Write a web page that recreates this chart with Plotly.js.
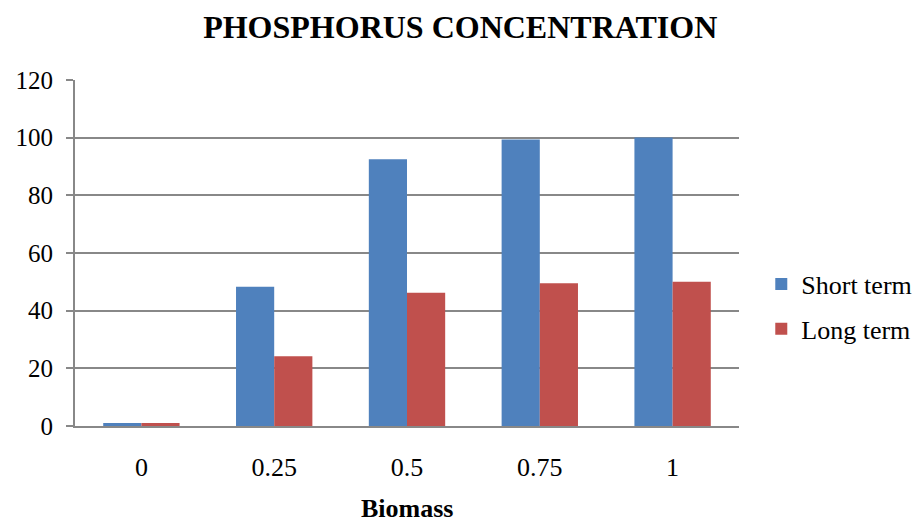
<!DOCTYPE html>
<html>
<head>
<meta charset="utf-8">
<script src="https://cdn.plot.ly/plotly-3.0.1.min.js"></script>
<style>html,body{margin:0;padding:0;background:#fff;}#chart{width:915px;height:524px;}</style>
</head>
<body>
<div id="chart"></div>
<script>
const categories = ["0", "0.25", "0.5", "0.75", "1"];
const shortTerm = [1, 48.3, 92.5, 99.4, 100.1];
const longTerm = [1, 24.2, 46.2, 49.5, 50];
const seriesNames = ["Short term", "Long term"];
const yTicks = [0, 20, 40, 60, 80, 100, 120];
const xTitle = "Biomass";

const font = '"Liberation Serif", "Times New Roman", serif';
const data = [
  {type: "bar", x: categories, y: shortTerm, name: seriesNames[0], legendgroup: "a",
   marker: {color: "#4F81BD", line: {width: 0}}},
  {type: "bar", x: categories, y: longTerm, name: seriesNames[1], legendgroup: "b",
   marker: {color: "#C0504D", line: {width: 0}}}
];
const layout = {
  width: 915, height: 524,
  margin: {l: 75, r: 176, t: 80, b: 98, autoexpand: false},
  paper_bgcolor: "#fff", plot_bgcolor: "#fff",
  font: {family: font, color: "#000", size: 25},
  title: {text: "<b>PHOSPHORUS CONCENTRATION</b>", font: {family: font, size: 32, color: "#000"},
          x: 0.503, xanchor: "center", y: 0.948, yanchor: "middle"},
  barmode: "group",
  bargap: 0.425, bargroupgap: 0,
  xaxis: {type: "category", showgrid: false, showline: true, linecolor: "#888", linewidth: 2,
          ticks: "", tickfont: {family: font, size: 26, color: "#000"}, ticklabelstandoff: 17,
          zeroline: false, automargin: false},
  yaxis: {range: [0, 120], tickvals: yTicks, showgrid: true, gridcolor: "#888", gridwidth: 2,
          showline: true, linecolor: "#888", linewidth: 2, ticks: "outside", ticklen: 7,
          tickcolor: "#888", tickwidth: 2, zeroline: false, automargin: false,
          tickfont: {family: font, size: 25, color: "#000"}, ticklabelstandoff: 8},
  annotations: [{text: "<b>" + xTitle + "</b>", xref: "paper", yref: "paper", x: 0.5, y: -0.238,
                 xanchor: "center", yanchor: "middle", showarrow: false,
                 font: {family: font, size: 26, color: "#000"}}],
  legend: {xref: "container", yref: "container", x: 0.832, xanchor: "left", y: 0.415, yanchor: "middle",
           traceorder: "grouped",
           font: {family: font, size: 26, color: "#000"}, tracegroupgap: 8, itemwidth: 30,
           bgcolor: "rgba(0,0,0,0)"},
  showlegend: true
};
Plotly.newPlot("chart", data, layout, {displayModeBar: false, staticPlot: true});
</script>
</body>
</html>
